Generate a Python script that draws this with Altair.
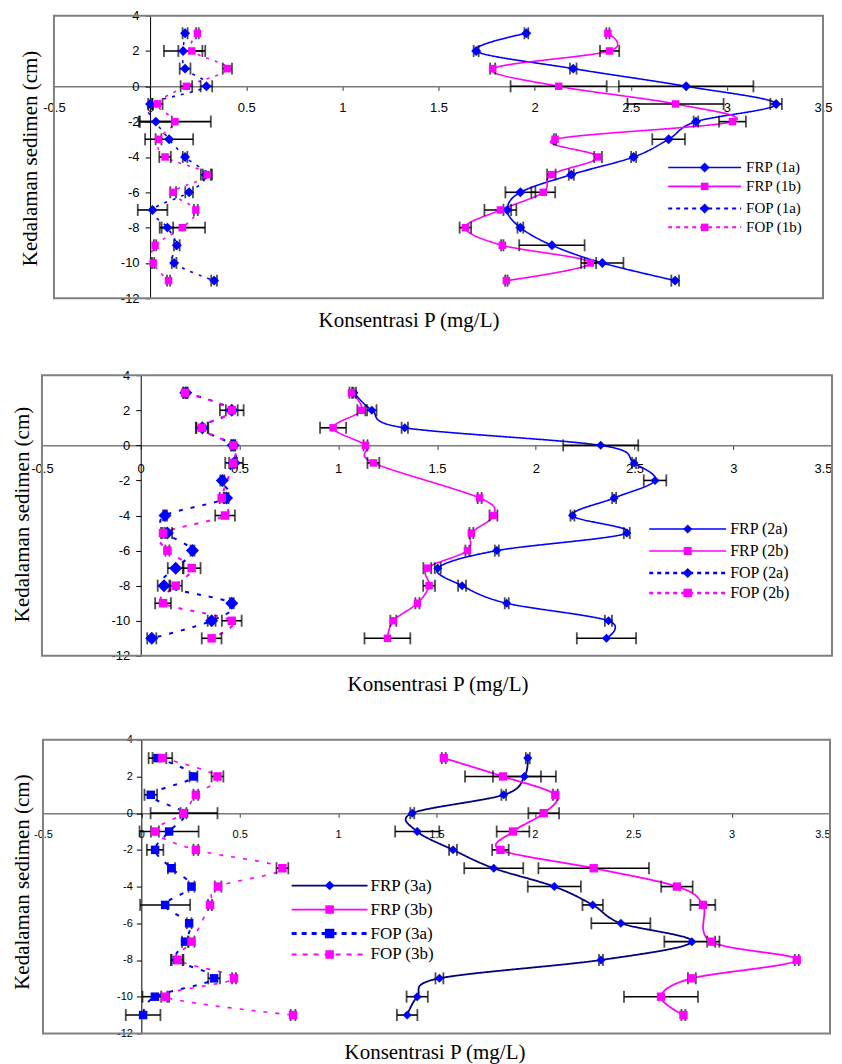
import altair as alt
import pandas as pd

# ---------------- data ----------------
DEPTH = [3, 2, 1, 0, -1, -2, -3, -4, -5, -6, -7, -8, -9, -10, -11]
X_TICKS = [-0.5, 0, 0.5, 1, 1.5, 2, 2.5, 3, 3.5]
Y_TICKS = [4, 2, 0, -2, -4, -6, -8, -10, -12]

# Panel 1
FRP_1A = [1.957, 1.696, 2.201, 2.788, 3.256, 2.839, 2.697, 2.515, 2.191, 1.926, 1.858, 1.926, 2.09, 2.352, 2.731]
FRP_1A_ERR = [0.01, 0.013, 0.017, 0.35, 0.03, 0.012, 0.085, 0.013, 0.013, 0.078, 0.02, 0.015, 0.17, 0.11, 0.02]
FRP_1B = [2.381, 2.39, 1.782, 2.125, 2.733, 3.029, 2.106, 2.33, 2.087, 2.045, 1.822, 1.64, 1.832, 2.29, 1.853]
FRP_1B_ERR = [0.008, 0.05, 0.013, 0.25, 0.25, 0.07, 0.006, 0.02, 0.022, 0.062, 0.083, 0.03, 0.006, 0.03, 0.006]
FOP_1A = [0.182, 0.172, 0.182, 0.293, 0.0, 0.03, 0.099, 0.182, 0.29, 0.203, 0.013, 0.09, 0.139, 0.125, 0.333]
FOP_1A_ERR = [0.013, 0.1, 0.028, 0.03, 0.01, 0.083, 0.125, 0.012, 0.026, 0.02, 0.077, 0.03, 0.015, 0.012, 0.015]
FOP_1B = [0.246, 0.217, 0.402, 0.189, 0.039, 0.129, 0.044, 0.078, 0.298, 0.12, 0.238, 0.168, 0.026, 0.016, 0.096]
FOP_1B_ERR = [0.007, 0.07, 0.024, 0.03, 0.026, 0.187, 0.015, 0.03, 0.024, 0.015, 0.01, 0.118, 0.006, 0.006, 0.008]
NAMES_1 = ["FRP (1a)", "FRP (1b)", "FOP (1a)", "FOP (1b)"]

# Panel 2
FRP_2A = [1.08, 1.17, 1.337, 2.329, 2.498, 2.604, 2.397, 2.186, 2.461, 1.803, 1.504, 1.627, 1.853, 2.368, 2.358]
FRP_2A_ERR = [0.01, 0.024, 0.016, 0.19, 0.01, 0.057, 0.01, 0.01, 0.015, 0.01, 0.015, 0.02, 0.01, 0.018, 0.15]
FRP_2B = [1.067, 1.117, 0.974, 1.138, 1.178, None, 1.716, 1.786, 1.674, 1.654, 1.451, 1.46, 1.401, 1.279, 1.249]
FRP_2B_ERR = [0.01, 0.02, 0.066, 0.01, 0.03, None, 0.01, 0.02, 0.01, 0.01, 0.02, 0.03, 0.01, 0.015, 0.116]
FOP_2A = [0.228, 0.461, 0.312, 0.468, 0.473, 0.413, 0.435, 0.123, 0.135, 0.262, 0.177, 0.118, 0.461, 0.359, 0.056]
FOP_2A_ERR = [0.01, 0.06, 0.03, 0.01, 0.045, 0.01, 0.01, 0.01, 0.024, 0.01, 0.04, 0.032, 0.01, 0.02, 0.023]
FOP_2B = [0.224, 0.461, 0.309, 0.469, 0.468, None, 0.41, 0.427, 0.113, 0.135, 0.258, 0.177, 0.113, 0.461, 0.359]
FOP_2B_ERR = [0.01, 0.03, 0.03, 0.01, 0.02, None, 0.01, 0.05, 0.01, 0.01, 0.045, 0.032, 0.04, 0.05, 0.05]
NAMES_2 = ["FRP (2a)", "FRP (2b)", "FOP (2a)", "FOP (2b)"]

# Panel 3
FRP_3A = [1.964, 1.947, 1.842, 1.377, 1.402, 1.584, 1.791, 2.099, 2.294, 2.437, 2.798, 2.336, 1.515, 1.402, 1.351]
FRP_3A_ERR = [0.01, 0.16, 0.012, 0.01, 0.112, 0.02, 0.15, 0.135, 0.052, 0.15, 0.14, 0.01, 0.02, 0.054, 0.052]
FRP_3B = [1.537, 1.838, 2.104, 2.045, 1.889, 1.825, 2.299, 2.722, 2.854, None, 2.896, 3.331, 2.798, 2.641, 2.755]
FRP_3B_ERR = [0.01, 0.193, 0.012, 0.078, 0.083, 0.042, 0.281, 0.08, 0.063, None, 0.02, 0.01, 0.02, 0.188, 0.01]
FOP_3A = [0.082, 0.265, 0.048, 0.217, 0.141, 0.07, 0.153, 0.255, 0.121, 0.243, 0.222, 0.18, 0.37, 0.069, 0.009]
FOP_3A_ERR = [0.045, 0.02, 0.032, 0.17, 0.15, 0.042, 0.018, 0.015, 0.127, 0.012, 0.015, 0.03, 0.03, 0.063, 0.088]
FOP_3B = [0.107, 0.387, 0.277, 0.214, 0.069, 0.277, 0.717, 0.39, 0.349, None, 0.255, 0.184, 0.471, 0.121, 0.771]
FOP_3B_ERR = [0.05, 0.03, 0.012, 0.015, 0.02, 0.012, 0.03, 0.017, 0.01, None, 0.015, 0.03, 0.01, 0.02, 0.012]
NAMES_3 = ["FRP (3a)", "FRP (3b)", "FOP (3a)", "FOP (3b)"]

X_TITLE = "Konsentrasi P (mg/L)"
Y_TITLE = "Kedalaman sedimen (cm)"


def long_table(names, series):
    rows = []
    for name, (vals, errs) in zip(names, series):
        for d, v, e in zip(DEPTH, vals, errs):
            if v is None:
                continue
            rows.append({"series": name, "depth": d, "value": v, "lo": v - e, "hi": v + e})
    return pd.DataFrame(rows)


BLUE = "#0000FF"
MAGENTA = "#FF00FF"
NAVY = "#000080"
FRAME = "#808080"
SERIF = "Liberation Serif"
SANS = "Liberation Sans"


def panel(df, names, st):
    W, H, dx = st["W"], st["H"], st["dx"]      # plot area [0, W]; the framed x-range starts at dx
    y_axis_x = dx + (W - dx) / 8.0             # pixel position of x = 0
    xs = alt.Scale(domain=[-0.5, 3.5], range=[dx, W], nice=False, zero=False)
    ys = alt.Scale(domain=[-12, 4], nice=False, zero=False)
    if st["flush_last"]:
        label_align = {"condition": {"test": "datum.value >= 3.5", "value": "right"}, "value": "center"}
    else:
        label_align = "center"
    x_axis = alt.Axis(
        values=X_TICKS, labelExpr="datum.value + ''", offset=-0.75 * H, grid=False,
        domainColor="#7a7a7a", domainWidth=1.5, tickColor="#333333", tickSize=4, tickWidth=1,
        labelPadding=st["xlp"], labelFont=SANS, labelFontSize=st["lfs"], labelColor="#000000",
        labelFlush=False, labelOverlap=False, labelAlign=label_align,
        title=X_TITLE, titleFont=SERIF, titleFontSize=21, titleFontWeight="normal",
        titleColor="#000000", titleX=st["xtx"], titleY=st["xty"],
        titleAlign="center", titleBaseline="middle", titleAngle=0,
    )
    y_axis = alt.Axis(
        values=Y_TICKS, labelExpr="datum.value + ''", offset=-y_axis_x, grid=False,
        domainColor="#000000", domainWidth=1, tickColor="#000000", tickSize=5, tickWidth=1,
        labelPadding=st["ylp"], labelFont=SANS, labelFontSize=st["lfs"], labelColor="#000000",
        labelOverlap=False,
        title=Y_TITLE, titleFont=SERIF, titleFontSize=21, titleFontWeight="normal",
        titleColor="#000000", titleX=st["ytx"], titleY=st["yty"],
        titleAlign="center", titleBaseline="middle", titleAngle=270,
    )
    base = alt.Chart(df)
    Y = alt.Y("depth:Q", scale=ys, axis=y_axis)

    def X(field):
        return alt.X(field + ":Q", scale=xs, axis=x_axis)

    layers = []
    # plot frame
    layers.append(
        alt.Chart(alt.Data(values=[{"k": 0}])).mark_rect(fill="transparent", stroke=FRAME, strokeWidth=2)
        .encode(x=alt.value(dx), x2=alt.value(W), y=alt.value(0), y2=alt.value(H))
    )
    # lines
    for name, col, dash, sw in zip(names, st["line_colors"], st["dashes"], st["line_widths"]):
        layers.append(
            base.transform_filter(alt.datum.series == name)
            .mark_line(interpolate="cardinal", color=col, strokeDash=dash, strokeWidth=sw)
            .encode(x=X("value"), y=Y, order=alt.Order("depth:Q", sort="descending"))
        )
    # error bars
    layers.append(base.mark_rule(color="black", strokeWidth=1.6).encode(x=X("lo"), x2="hi:Q", y=Y))
    layers.append(base.mark_tick(orient="vertical", color="black", size=st["cap"], thickness=1.8)
                  .encode(x=X("lo"), y=Y))
    layers.append(base.mark_tick(orient="vertical", color="black", size=st["cap"], thickness=1.8)
                  .encode(x=X("hi"), y=Y))
    # markers
    for name, col, shp, sz in zip(names, st["marker_colors"], st["shapes"], st["sizes"]):
        layers.append(
            base.transform_filter(alt.datum.series == name)
            .mark_point(filled=True, opacity=1, color=col, shape=shp, size=sz)
            .encode(x=X("value"), y=Y)
        )
    # legend (drawn as guide marks)
    lx0, lx1, ltx = st["leg_x"]
    lmx = (lx0 + lx1) / 2.0
    for i, name in enumerate(names):
        ly = st["leg_rows"][i]
        one = alt.Data(values=[{"label": name}])
        layers.append(
            alt.Chart(one).mark_rule(color=st["line_colors"][i], strokeDash=st["leg_dashes"][i],
                                     strokeWidth=st["leg_widths"][i])
            .encode(x=alt.value(lx0), x2=alt.value(lx1), y=alt.value(ly))
        )
        layers.append(
            alt.Chart(one).mark_point(filled=True, opacity=1, color=st["marker_colors"][i],
                                      shape=st["shapes"][i], size=st["leg_sizes"][i])
            .encode(x=alt.value(lmx), y=alt.value(ly))
        )
        layers.append(
            alt.Chart(one).mark_text(align="left", baseline="middle", font=SERIF,
                                     fontSize=st["leg_fs"], color="#000000")
            .encode(x=alt.value(ltx), y=alt.value(ly), text="label:N")
        )
    return alt.layer(*layers).properties(width=W, height=H)


df1 = long_table(NAMES_1, [(FRP_1A, FRP_1A_ERR), (FRP_1B, FRP_1B_ERR), (FOP_1A, FOP_1A_ERR), (FOP_1B, FOP_1B_ERR)])
df2 = long_table(NAMES_2, [(FRP_2A, FRP_2A_ERR), (FRP_2B, FRP_2B_ERR), (FOP_2A, FOP_2A_ERR), (FOP_2B, FOP_2B_ERR)])
df3 = long_table(NAMES_3, [(FRP_3A, FRP_3A_ERR), (FRP_3B, FRP_3B_ERR), (FOP_3A, FOP_3A_ERR), (FOP_3B, FOP_3B_ERR)])

SOLID = [1, 0]
st1 = dict(
    W=782, H=283, dx=12, lfs=13, xlp=11, ylp=6, cap=12, flush_last=False,
    xtx=367, xty=234.25, ytx=-119.25, yty=142.5,
    line_colors=[BLUE, MAGENTA, BLUE, MAGENTA], dashes=[SOLID, SOLID, [3, 6], [3, 6]],
    line_widths=[1.6, 1.6, 1.6, 1.6],
    marker_colors=[BLUE, MAGENTA, BLUE, MAGENTA], shapes=["diamond", "square", "diamond", "square"],
    sizes=[100, 56, 100, 56],
    leg_x=(627, 700, 705), leg_rows=[152, 171, 193, 212],
    leg_dashes=[SOLID, SOLID, [4, 4], [4, 4]], leg_widths=[1.6, 1.6, 2, 2],
    leg_sizes=[100, 56, 100, 56], leg_fs=15,
)
st2 = dict(
    W=791, H=281, dx=0, lfs=13, xlp=13, ylp=6, cap=12, flush_last=True,
    xtx=396, xty=239.75, ytx=-118.375, yty=139,
    line_colors=[BLUE, MAGENTA, BLUE, MAGENTA], dashes=[SOLID, SOLID, [4, 8], [4, 8]],
    line_widths=[1.6, 1.6, 2, 2],
    marker_colors=[BLUE, MAGENTA, BLUE, MAGENTA], shapes=["diamond", "square", "diamond", "square"],
    sizes=[81, 56, 169, 72],
    leg_x=(608, 685, 689), leg_rows=[154, 176, 198, 218],
    leg_dashes=[SOLID, SOLID, [4, 4], [4, 4]], leg_widths=[1.6, 1.6, 2.5, 2.5],
    leg_sizes=[81, 64, 100, 72], leg_fs=16,
)
st3 = dict(
    W=789, H=294, dx=1, lfs=11, xlp=11, ylp=4, cap=12, flush_last=True,
    xtx=393, xty=239.5, ytx=-119, yty=142,
    line_colors=[NAVY, MAGENTA, BLUE, MAGENTA], dashes=[SOLID, SOLID, [4, 8], [4, 8]],
    line_widths=[1.8, 1.8, 2, 1.6],
    marker_colors=[BLUE, MAGENTA, BLUE, MAGENTA], shapes=["diamond", "square", "square", "square"],
    sizes=[81, 70, 72, 72],
    leg_x=(250, 326, 329), leg_rows=[146, 170, 194, 215],
    leg_dashes=[SOLID, SOLID, [5, 5], [5, 6]], leg_widths=[1.8, 1.8, 3, 2],
    leg_sizes=[90, 72, 90, 72], leg_fs=17,
)

chart = (
    alt.vconcat(
        panel(df1, NAMES_1, st1),
        panel(df2, NAMES_2, st2),
        panel(df3, NAMES_3, st3),
        spacing=37,
    )
    .properties(padding={"left": 3, "top": 0, "right": 0, "bottom": 0}, background="white")
    .configure_view(stroke="transparent")
)

chart.save("out.html", embed_options={"renderer": "svg", "actions": False})
